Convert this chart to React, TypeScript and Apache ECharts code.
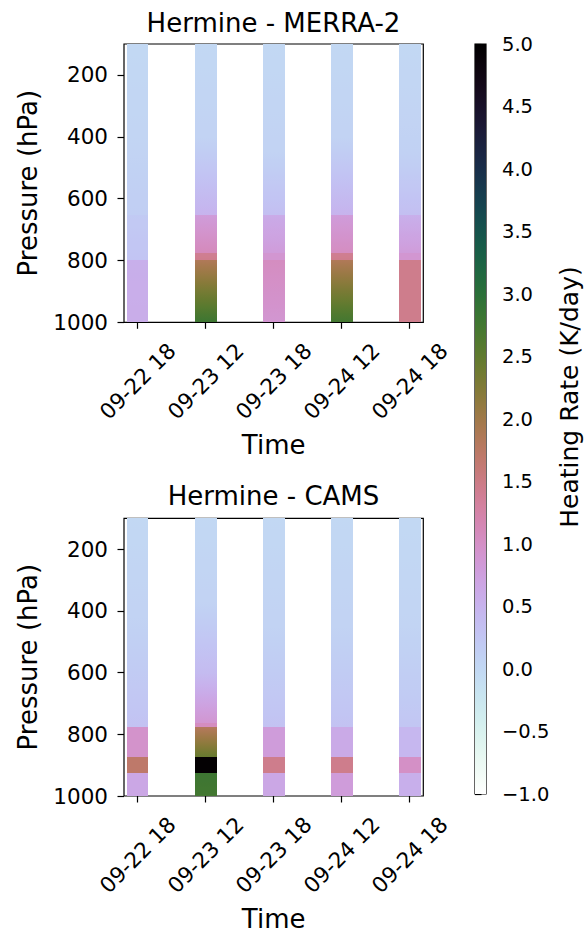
import React, { useEffect, useRef } from 'react';
import * as echarts from 'echarts';

// ---------- data ----------
const timeLabels = ['09-22 18', '09-23 12', '09-23 18', '09-24 12', '09-24 18'];
const timeIndex = [0, 1, 2, 3, 4];
const pressureTicks = [200, 400, 600, 800, 1000];
const pressureMin = 100;
const pressureMax = 1000;
const heatingMin = -1;
const heatingMax = 5;
const heatingStep = 0.5;

// profile segments: [pressureTop, pressureBottom, rateAtTop, rateAtBottom] (K/day)
const merra2_0922_18 = [[100, 400, 0.0, 0.05], [400, 653, 0.05, 0.15], [653, 797, 0.2, 0.28], [797, 1000, 0.55, 0.58]];
const merra2_0923_12 = [[100, 400, 0.0, 0.08], [400, 653, 0.08, 0.5], [653, 777, 0.8, 1.1], [777, 797, 1.4, 1.45], [797, 1000, 1.85, 2.8]];
const merra2_0923_18 = [[100, 450, 0.0, 0.08], [450, 653, 0.08, 0.35], [653, 777, 0.6, 0.8], [777, 797, 0.9, 0.9], [797, 1000, 1.05, 0.9]];
const merra2_0924_12 = [[100, 400, 0.0, 0.08], [400, 653, 0.08, 0.5], [653, 777, 0.8, 1.05], [777, 797, 1.4, 1.45], [797, 1000, 1.85, 2.75]];
const merra2_0924_18 = [[100, 450, 0.0, 0.1], [450, 653, 0.1, 0.35], [653, 777, 0.55, 0.8], [777, 797, 0.9, 0.9], [797, 1000, 1.45, 1.45]];

const cams_0922_18 = [[100, 420, 0.0, 0.08], [420, 777, 0.08, 0.3], [777, 872, 0.95, 0.95], [872, 924, 1.7, 1.7], [924, 1000, 0.65, 0.65]];
const cams_0923_12 = [[100, 370, 0.0, 0.08], [370, 600, 0.08, 0.4], [600, 762, 0.4, 0.9], [762, 777, 1.05, 1.05], [777, 872, 1.8, 2.45], [872, 924, 4.95, 4.95], [924, 1000, 2.8, 2.75]];
const cams_0923_18 = [[100, 450, 0.0, 0.08], [450, 777, 0.08, 0.3], [777, 872, 0.8, 0.8], [872, 924, 1.45, 1.45], [924, 1000, 0.65, 0.65]];
const cams_0924_12 = [[100, 450, 0.0, 0.08], [450, 777, 0.08, 0.3], [777, 872, 0.62, 0.62], [872, 924, 1.45, 1.45], [924, 1000, 0.8, 0.8]];
const cams_0924_18 = [[100, 450, 0.0, 0.06], [450, 777, 0.06, 0.25], [777, 872, 0.45, 0.45], [872, 924, 1.0, 1.0], [924, 1000, 0.55, 0.55]];

const merra2Profiles = [merra2_0922_18, merra2_0923_12, merra2_0923_18, merra2_0924_12, merra2_0924_18];
const camsProfiles = [cams_0922_18, cams_0923_12, cams_0923_18, cams_0924_12, cams_0924_18];

const titles = ['Hermine - MERRA-2', 'Hermine - CAMS'];

// ---------- colormap (matplotlib cubehelix_r) ----------
function cubehelixR(v: number): string {
  let t = (v - heatingMin) / (heatingMax - heatingMin);
  t = Math.max(0, Math.min(1, t));
  const x = 1 - t;
  const gamma = 1.0, s = 0.5, r = -1.5, h = 1.0;
  const xg = Math.pow(x, gamma);
  const a = (h * xg * (1 - xg)) / 2;
  const phi = 2 * Math.PI * (s / 3 + r * x);
  const ch = (p0: number, p1: number) => {
    const c = xg + a * (p0 * Math.cos(phi) + p1 * Math.sin(phi));
    return Math.round(Math.max(0, Math.min(1, c)) * 255);
  };
  return `rgb(${ch(-0.14861, 1.78277)},${ch(-0.29227, -0.90649)},${ch(1.97294, 0)})`;
}

function gradientStops(vTop: number, vBot: number, n: number) {
  const stops = [];
  for (let k = 0; k <= n; k++) {
    const f = k / n;
    stops.push({ offset: f, color: cubehelixR(vTop + (vBot - vTop) * f) });
  }
  return stops;
}

const FONT = 'DejaVu Sans';
const HALF_WIDTH = 0.16;

function buildData(profiles: number[][][]) {
  const out: number[][] = [];
  profiles.forEach((segs, i) => {
    segs.forEach((s) => out.push([timeIndex[i], s[0], s[1], s[2], s[3]]));
  });
  return out;
}

const renderColumn = (params: any, api: any) => {
  const xi = api.value(0);
  const pTop = api.value(1);
  const pBot = api.value(2);
  const vTop = api.value(3);
  const vBot = api.value(4);
  const a = api.coord([xi - HALF_WIDTH, pTop]);
  const b = api.coord([xi + HALF_WIDTH, pBot]);
  const x0 = Math.round(a[0]);
  const x1 = Math.round(b[0]);
  const y0 = Math.round(a[1]);
  const y1 = Math.round(b[1]);
  return {
    type: 'rect',
    shape: { x: x0, y: y0, width: x1 - x0, height: y1 - y0 },
    style: { fill: new echarts.graphic.LinearGradient(0, 0, 0, 1, gradientStops(vTop, vBot, 8)) },
  };
};

const renderColorbar = (params: any, api: any) => {
  const a = api.coord([0, heatingMax]);
  const b = api.coord([1, heatingMin]);
  return {
    type: 'rect',
    shape: { x: a[0], y: a[1], width: b[0] - a[0], height: b[1] - a[1] },
    style: { fill: new echarts.graphic.LinearGradient(0, 0, 0, 1, gradientStops(heatingMax, heatingMin, 60)) },
  };
};

const fmtMinus = (v: number) => (v < 0 ? '\u2212' + Math.abs(v).toFixed(1) : v.toFixed(1));

export default function App() {
  const ref = useRef<HTMLDivElement>(null);
  useEffect(() => {
    if (!ref.current) return;
    const chart = echarts.init(ref.current, undefined, { renderer: 'svg' });

    const panelX = (gi: number) => ({
      type: 'value',
      gridIndex: gi,
      min: -0.2,
      max: 4.2,
      splitLine: { show: false },
      axisLine: { show: false, onZero: false },
      axisTick: { show: true, customValues: timeIndex, length: 6.5, inside: false, lineStyle: { color: '#000', width: 1.2 } },
      axisLabel: {
        customValues: timeIndex,
        formatter: (v: number) => timeLabels[Math.round(v)] ?? '',
        rotate: 45,
        align: 'center',
        verticalAlign: 'middle',
        margin: 59,
        fontSize: 21.5,
        fontFamily: FONT,
        color: '#000',
      },
      name: 'Time',
      nameLocation: 'middle',
      nameGap: 110,
      nameMoveOverlap: false,
      nameTextStyle: { fontSize: 26, fontFamily: FONT, color: '#000' },
    });
    const panelY = (gi: number) => ({
      type: 'value',
      gridIndex: gi,
      inverse: true,
      min: pressureMin,
      max: pressureMax,
      splitLine: { show: false },
      axisLine: { show: false, onZero: false },
      axisTick: { show: true, customValues: pressureTicks, length: 6.5, lineStyle: { color: '#000', width: 1.2 } },
      axisLabel: {
        customValues: pressureTicks,
        formatter: (v: number) => String(v),
        margin: 16,
        fontSize: 21.5,
        fontFamily: FONT,
        color: '#000',
      },
      name: 'Pressure (hPa)',
      nameLocation: 'middle',
      nameRotate: 90,
      nameGap: 83,
      nameMoveOverlap: false,
      nameTextStyle: { fontSize: 26, fontFamily: FONT, color: '#000' },
    });

    const gridBase = { show: true, borderColor: '#000', borderWidth: 1.2, backgroundColor: 'transparent', containLabel: false, outerBoundsMode: 'none' };

    chart.setOption({
      animation: false,
      backgroundColor: '#fff',
      grid: [
        { ...gridBase, left: 124, top: 44, width: 299.3, height: 278.3 },
        { ...gridBase, left: 124, top: 518.3, width: 299.3, height: 277.7 },
        { ...gridBase, left: 475, top: 44, width: 11, height: 750 },
      ],
      xAxis: [
        panelX(0),
        panelX(1),
        { type: 'value', gridIndex: 2, min: 0, max: 1, show: false },
      ],
      yAxis: [
        panelY(0),
        panelY(1),
        {
          type: 'value',
          gridIndex: 2,
          position: 'right',
          min: heatingMin,
          max: heatingMax,
          interval: heatingStep,
          splitLine: { show: false },
          axisLine: { show: false },
          axisTick: { show: true, length: 6.5, lineStyle: { color: '#000', width: 1.2 } },
          axisLabel: { margin: 16, formatter: fmtMinus, fontSize: 19.5, fontFamily: FONT, color: '#000' },
        },
      ],
      series: [
        { type: 'custom', xAxisIndex: 0, yAxisIndex: 0, renderItem: renderColumn, encode: { x: 0, y: [1, 2] }, data: buildData(merra2Profiles), silent: true },
        { type: 'custom', xAxisIndex: 1, yAxisIndex: 1, renderItem: renderColumn, encode: { x: 0, y: [1, 2] }, data: buildData(camsProfiles), silent: true },
        { type: 'custom', xAxisIndex: 2, yAxisIndex: 2, renderItem: renderColorbar, data: [[0]], silent: true },
      ],
      graphic: [
        { type: 'text', x: 273.5, y: 22.5, style: { text: titles[0], fontSize: 26, fontFamily: FONT, fill: '#000', align: 'center', verticalAlign: 'middle' } },
        { type: 'text', x: 273.5, y: 496, style: { text: titles[1], fontSize: 26, fontFamily: FONT, fill: '#000', align: 'center', verticalAlign: 'middle' } },
        { type: 'text', x: 569.6, y: 397, rotation: Math.PI / 2, style: { text: 'Heating Rate (K/day)', fontSize: 25, fontFamily: FONT, fill: '#000', align: 'center', verticalAlign: 'middle' } },
      ],
    });
    return () => chart.dispose();
  }, []);
  return <div ref={ref} style={{ position: 'absolute', left: 0, top: 0, width: 586, height: 935 }} />;
}
